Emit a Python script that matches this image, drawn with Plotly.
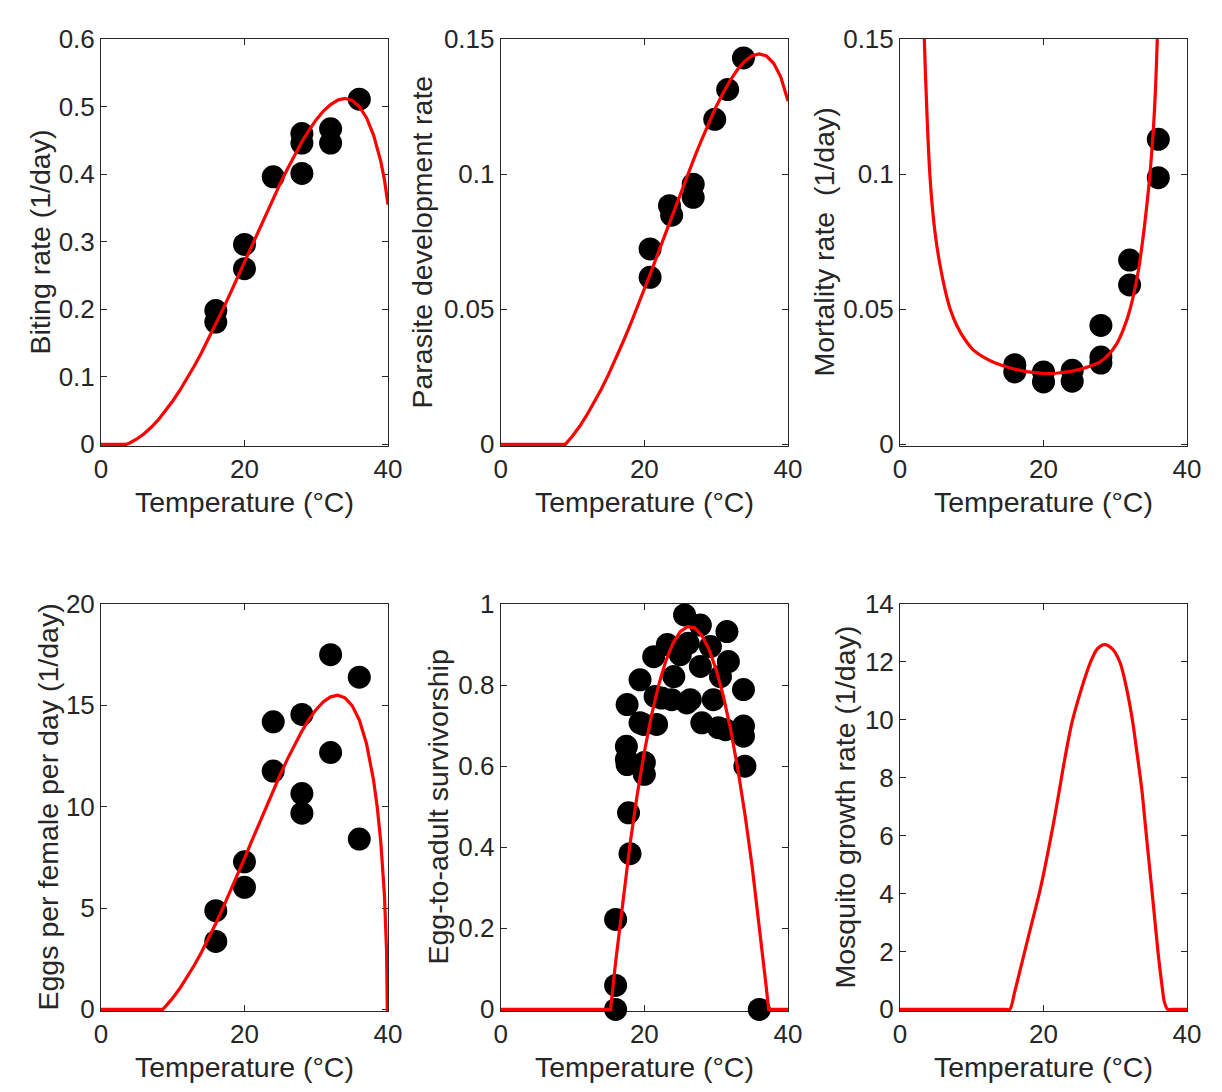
import plotly.graph_objects as go

# ---- observed data (temperature in degC) ----
bite_T = [16, 16, 20, 20, 24, 28, 28, 28, 32, 32, 36]
bite_obs = [0.198, 0.181, 0.296, 0.260, 0.396, 0.460, 0.446, 0.401, 0.467, 0.446, 0.511]

pdr_T = [20.8, 20.8, 23.5, 23.8, 26.8, 26.8, 29.8, 31.6, 33.8]
pdr_obs = [0.0723, 0.0618, 0.0883, 0.0848, 0.0963, 0.0914, 0.1203, 0.1313, 0.143]

mort_T = [16, 16, 20, 20, 24, 24, 28, 28, 28, 32, 32, 36, 36]
mort_obs = [0.0295, 0.0268, 0.0268, 0.0231, 0.0274, 0.0234, 0.0440, 0.0323, 0.0301,
            0.0682, 0.0590, 0.1129, 0.0987]

efd_T = [16, 16, 20, 20, 24, 24, 28, 28, 28, 32, 32, 36, 36]
efd_obs = [4.87, 3.35, 7.28, 6.02, 14.19, 11.76, 14.55, 10.65, 9.68, 17.5, 12.67, 16.39, 8.40]

pea_T = [16, 16, 16, 17.8, 18, 17.6, 17.5, 17.5, 17.6, 20, 20, 19.4, 19.9, 19.4, 21.3,
         21.7, 21.5, 22.4, 23.2, 24.1, 23.8, 25, 25.6, 26.1, 26.4, 25.9, 27.8, 27.8,
         28, 29.2, 29.6, 30.3, 30.6, 31.5, 31.7, 31.3, 33.8, 33.8, 33.8, 34, 36]
pea_obs = [0, 0.059, 0.222, 0.485, 0.384, 0.752, 0.649, 0.617, 0.604, 0.609, 0.58, 0.707,
           0.703, 0.813, 0.870, 0.703, 0.772, 0.768, 0.90, 0.821, 0.764, 0.875, 0.973,
           0.903, 0.764, 0.756, 0.948, 0.846, 0.707, 0.895, 0.764, 0.695, 0.821, 0.932,
           0.858, 0.69, 0.789, 0.699, 0.674, 0.60, 0]

# ---- fitted curves ----
bite_fit_T = [0, 3.5, 4, 5, 6, 7, 8, 9, 10, 11, 12, 13, 14, 15, 16, 17, 18, 19, 20, 21, 22,
              23, 24, 25, 26, 27, 28, 29, 30, 31, 32, 33, 34, 35, 36, 37, 38, 39, 39.5, 40]
bite_fit = [0, 0, 0.0021, 0.0080, 0.0157, 0.0253, 0.0366, 0.0496, 0.0642, 0.0801, 0.0975,
            0.1161, 0.1357, 0.1564, 0.178, 0.2002, 0.2231, 0.2465, 0.270, 0.2939, 0.3176,
            0.3411, 0.364, 0.3867, 0.408, 0.4288, 0.448, 0.4653, 0.4806, 0.4934, 0.503,
            0.5096, 0.512, 0.509, 0.500, 0.4836, 0.4575, 0.4185, 0.392, 0.355]

pdr_fit_T = [0, 9, 10, 11, 12, 13, 14, 15, 16, 17, 18, 19, 20, 21, 22, 23, 24, 25, 26, 27,
             28, 29, 30, 31, 32, 33, 34, 35, 36, 37, 38, 39, 40]
pdr_fit = [0, 0, 0.0031, 0.0067, 0.0109, 0.0154, 0.0204, 0.0258, 0.0316, 0.0377, 0.0440,
           0.0506, 0.0574, 0.0643, 0.0714, 0.0785, 0.0856, 0.0927, 0.0996, 0.1064, 0.1129,
           0.1191, 0.1250, 0.1302, 0.1349, 0.1388, 0.1418, 0.1438, 0.1445, 0.1437, 0.1410,
           0.1359, 0.127]

mort_fit_T = [3.2, 3.39, 3.72, 4.09, 4.5, 5.0, 5.6, 6.3, 7.0, 8.0, 9.0, 10.2, 11.7, 13.2,
              15.5, 17.9, 20.2, 22, 24.15, 26, 27.9, 29, 30.2, 31.2, 32.06, 33.2, 33.9, 34.4,
              34.84, 35.3, 35.6, 35.86, 36.05]
mort_fit = [0.18, 0.15, 0.125, 0.103, 0.088, 0.076, 0.066, 0.057, 0.050, 0.0435, 0.039,
            0.035, 0.0322, 0.0302, 0.0282, 0.0268, 0.0262, 0.0264, 0.0272, 0.0285, 0.0305,
            0.0330, 0.0372, 0.0430, 0.05, 0.064, 0.077, 0.0885, 0.100, 0.116, 0.131, 0.15,
            0.17]

efd_fit_T = [0, 8.6, 9, 10, 11, 12, 13, 14, 15, 16, 17, 18, 19, 20, 21, 22, 23, 24, 25, 26,
             27, 28, 29, 30, 31, 32, 33, 34, 35, 36, 37, 38, 38.5, 39, 39.5, 39.8, 39.9, 40]
efd_fit = [0, 0, 0.147, 0.561, 1.040, 1.579, 2.174, 2.820, 3.511, 4.24, 5.008, 5.803, 6.621,
           7.45, 8.297, 9.142, 9.979, 10.80, 11.60, 12.36, 13.08, 13.73, 14.32, 14.80, 15.18,
           15.42, 15.50, 15.37, 14.99, 14.28, 13.12, 11.28, 9.98, 8.24, 5.66, 2.88, 0, 0]

pea_fit_T = [0, 15.3, 16, 17, 18, 19, 20, 21, 22, 23, 24, 25, 26, 27, 28, 29, 30, 31, 32, 33,
             34, 35, 36, 37, 37.3, 40]
pea_fit = [0, 0, 0.1164, 0.2695, 0.407, 0.5288, 0.635, 0.7256, 0.8006, 0.860, 0.9037,
           0.9318, 0.9443, 0.9412, 0.9224, 0.8881, 0.8381, 0.7725, 0.6913, 0.5944, 0.482,
           0.3539, 0.2102, 0.0508, 0, 0]

mgr_fit_T = [0, 14.6, 15.3, 16, 17.24, 18.4, 19.56, 21.41, 23.04, 23.96, 25.26, 26.51, 27.5,
             28.5, 29.6, 30.68, 31.61, 32.45, 33.09, 33.70, 34.16, 34.62, 35.09, 35.55, 36.01,
             36.57, 36.85, 37.3, 37.9, 40]
mgr_fit = [0, 0, 0, 0.62, 1.86, 3.01, 4.16, 6.45, 8.75, 9.90, 11.05, 11.97, 12.45, 12.6,
           12.45, 11.97, 11.05, 9.90, 8.75, 7.60, 6.45, 5.31, 4.16, 3.01, 1.86, 0.71, 0.25,
           0, 0, 0]

# page body has an 8px margin, so the figure is a bit smaller and shifted
PAD = 8
W, H = 1222 - 2 * PAD, 1092 - 2 * PAD
TXT = "#262626"
FONT = "Liberation Sans, Arial, Helvetica, sans-serif"

# plot boxes in screen pixels (left, right) and (top, bottom)
cols = [(101, 388), (500.7, 788), (900, 1187)]
rows = [(39, 446), (604, 1011)]

panels = [
    (bite_T, bite_obs, bite_fit_T, bite_fit, "Biting rate (1/day)", 0.6, 0.1, 40, "linear"),
    (pdr_T, pdr_obs, pdr_fit_T, pdr_fit, "Parasite development rate", 0.15, 0.05, 422, "linear"),
    (mort_T, mort_obs, mort_fit_T, mort_fit, "Mortality rate  (1/day)", 0.15, 0.05, 824, "spline"),
    (efd_T, efd_obs, efd_fit_T, efd_fit, "Eggs per female per day (1/day)", 20, 5, 47, "linear"),
    (pea_T, pea_obs, pea_fit_T, pea_fit, "Egg-to-adult survivorship", 1, 0.2, 437, "linear"),
    (None, None, mgr_fit_T, mgr_fit, "Mosquito growth rate (1/day)", 14, 2, 844, "spline"),
]


def px(x):
    return (x - PAD) / W


def py(y):
    return 1 - (y - PAD) / H


fig = go.Figure()
annotations = []
for i, (oT, oy, fT, fy, ytitle, ymax, dtick, title_x, shape) in enumerate(panels):
    n = "" if i == 0 else str(i + 1)
    xl, xr = cols[i % 3]
    yt, yb = rows[i // 3]
    if oT is not None:
        fig.add_trace(go.Scatter(x=oT, y=oy, mode="markers", xaxis="x" + n, yaxis="y" + n,
                                 marker=dict(size=23, color="black"), cliponaxis=False,
                                 showlegend=False))
    fig.add_trace(go.Scatter(x=fT, y=fy, mode="lines", xaxis="x" + n, yaxis="y" + n,
                             line=dict(color="#ff0000", width=3.2, shape=shape, smoothing=0.8),
                             showlegend=False))
    axis_common = dict(showline=True, linecolor=TXT, linewidth=1, mirror="ticks",
                       ticks="inside", ticklen=6, tickwidth=1, tickcolor=TXT,
                       showgrid=False, zeroline=False, layer="below traces",
                       automargin=False,
                       tickfont=dict(family=FONT, size=26, color=TXT))
    fig.layout["xaxis" + n] = dict(axis_common, domain=[px(xl), px(xr)], range=[0, 40],
                                   tickvals=[0, 20, 40], anchor="y" + n)
    fig.layout["yaxis" + n] = dict(axis_common, domain=[py(yb), py(yt)],
                                   range=[-0.004 * ymax, ymax], dtick=dtick, tick0=0,
                                   anchor="x" + n)
    annotations.append(dict(text=ytitle, textangle=-90, xref="paper", yref="paper",
                            x=px(title_x), y=py((yt + yb) / 2), showarrow=False,
                            xanchor="center", yanchor="middle",
                            font=dict(family=FONT, size=28.5, color=TXT)))
    annotations.append(dict(text="Temperature (°C)", xref="paper", yref="paper",
                            x=px((xl + xr) / 2), y=py(yb + 56), showarrow=False,
                            xanchor="center", yanchor="middle",
                            font=dict(family=FONT, size=28.5, color=TXT)))

fig.update_layout(width=W, height=H, margin=dict(l=0, r=0, t=0, b=0),
                  paper_bgcolor="white", plot_bgcolor="white",
                  annotations=annotations)

fig.write_html("out.html")
